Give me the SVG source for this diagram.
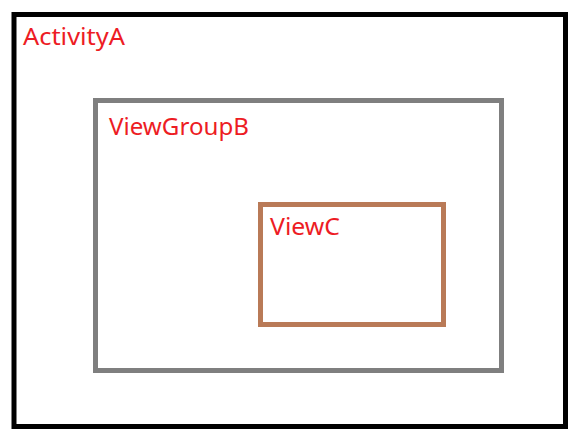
<svg xmlns="http://www.w3.org/2000/svg" width="581" height="446" viewBox="0 0 581 446">
<style>
.box{fill:none;stroke-width:5}
.lbl{font-family:"Noto Sans","Open Sans",sans-serif;font-size:24px;fill:#ed1c24}
</style>
<rect width="581" height="446" fill="#fff"/>
<g id="ActivityA">
<rect class="box" x="14" y="14.5" width="551.5" height="412" stroke="#000" stroke-width="5.5"/>
<text class="lbl" x="23" y="45" textLength="102" lengthAdjust="spacingAndGlyphs">ActivityA</text>
</g>
<g id="ViewGroupB">
<rect class="box" x="95.5" y="100.5" width="406" height="270" stroke="#7f7f7f"/>
<text class="lbl" x="109" y="135" textLength="140" lengthAdjust="spacingAndGlyphs">ViewGroupB</text>
</g>
<g id="ViewC">
<rect class="box" x="260.5" y="204.5" width="183" height="120" stroke="#b97a57"/>
<text class="lbl" x="270" y="235" textLength="70" lengthAdjust="spacingAndGlyphs">ViewC</text>
</g>
<g id="connectors"/>
</svg>
